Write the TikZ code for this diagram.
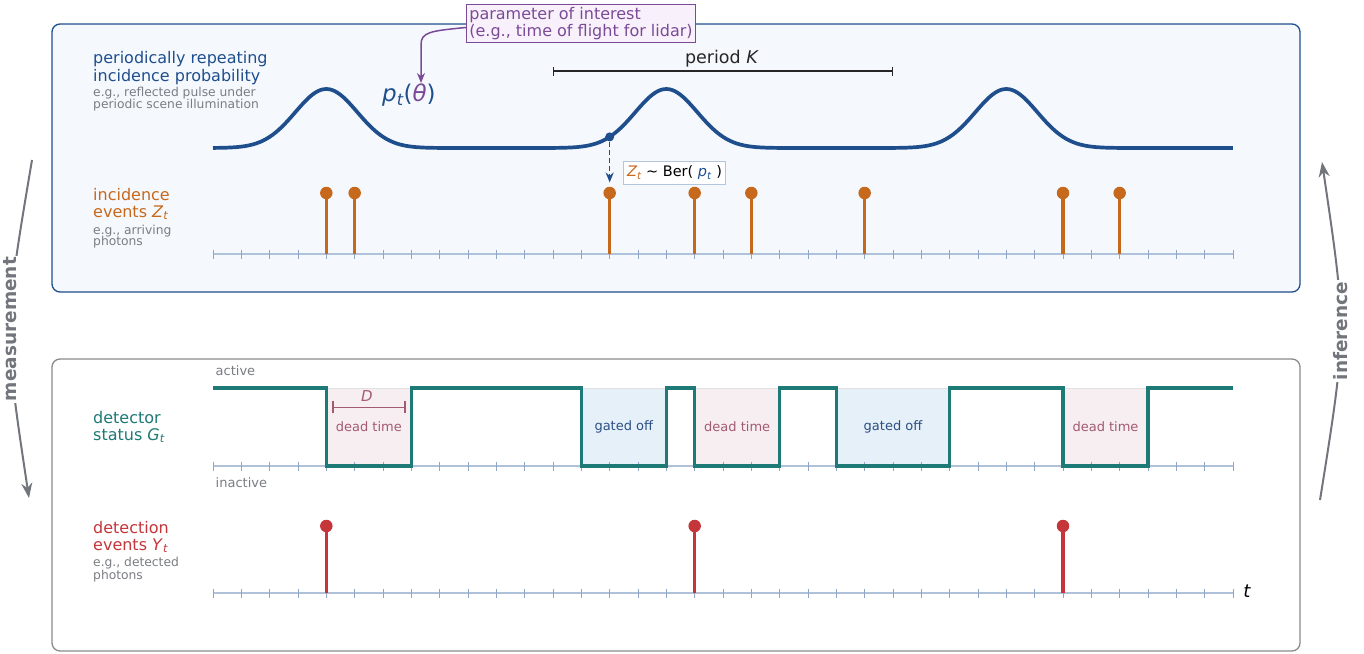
\documentclass[tikz,border=0pt]{standalone}
\usepackage{fontspec}
\setmainfont{DejaVu Sans}
\usetikzlibrary{arrows.meta}
\definecolor{cblue}{HTML}{1F4E8C}
\definecolor{bgblue}{HTML}{F5F9FE}
\definecolor{corange}{HTML}{C6691D}
\definecolor{cteal}{HTML}{1E7A76}
\definecolor{cred}{HTML}{C4363A}
\definecolor{cpurple}{HTML}{7B4A97}
\definecolor{cpurplebg}{HTML}{F8F1FB}
\definecolor{cmauve}{HTML}{A35A73}
\definecolor{deadbg}{HTML}{F6EEF1}
\definecolor{gatedbg}{HTML}{E6F0F9}
\definecolor{gatedtext}{HTML}{2B4F84}
\definecolor{gtext}{HTML}{7A7D83}
\definecolor{axiscol}{HTML}{B0C2DA}
\definecolor{tickcol}{HTML}{90A6C4}
\definecolor{arrowgray}{HTML}{72767C}
\definecolor{botborder}{HTML}{8A8A8A}
\definecolor{berborder}{HTML}{B3C6DE}
\newcommand\fs[1]{\fontsize{#1}{#1}\selectfont}
\newcommand\sbi[1]{\textsubscript{\itshape #1}}
\newcommand\timeaxis[1]{%
  \draw[axisline] (213,#1) -- (1233,#1);
  \foreach \i in {0,...,36}{\draw[tickline] ({213+\i*28.3333},{#1-4.5}) -- ({213+\i*28.3333},{#1+4.5});}}
\begin{document}
\begin{tikzpicture}[x=1pt,y=-1pt,
  lbl/.style={anchor=base west, inner sep=0pt, font=\fs{16}},
  sublbl/.style={anchor=base west, inner sep=0pt, font=\fs{12.3}, text=gtext},
  axisline/.style={draw=axiscol, line width=1.5pt},
  tickline/.style={draw=tickcol, line width=0.9pt},
  ostem/.style={draw=corange, line width=3.3pt},
  rstem/.style={draw=cred, line width=3.3pt},
  odot/.style={circle, fill=corange, inner sep=0pt, minimum size=12.5pt},
  rdot/.style={circle, fill=cred, inner sep=0pt, minimum size=12.5pt},
  sidearrow/.style={draw=arrowgray, line width=2pt, -{Stealth[length=15pt,width=11pt]}},
  sidelabel/.style={rotate=90, fill=white, inner sep=1.5pt, font=\bfseries\fs{18.5}, text=arrowgray},
  shade/.style={draw=black!12, line width=0.6pt},
  dtlabel/.style={font=\fs{13}, text=cmauve},
  gtlabel/.style={font=\fs{13}, text=gatedtext},
  statelbl/.style={anchor=west, inner sep=0pt, font=\fs{13}, text=gtext},
]
\useasboundingbox (0,0) rectangle (1364,653);

% panels
\draw[draw=cblue, fill=bgblue, line width=1.3pt, rounded corners=8pt] (52,24) rectangle (1300,292);
\draw[draw=botborder, fill=white, line width=1.3pt, rounded corners=8pt] (52,359) rectangle (1300,651);

% ---------- top panel ----------
\node[lbl, text=cblue] (l1a) at (93,63.3) {periodically repeating};
\node[lbl, text=cblue] (l1b) at (93,81) {incidence probability};
\node[sublbl] (l1c) at (93,96.7) {e.g., reflected pulse under};
\node[sublbl] (l1d) at (93,108.3) {periodic scene illumination};

\draw[cblue, line width=3.7pt, line join=round]
  plot[domain=0:36, samples=361, smooth]
  ({213+\x*28.3333},{148-59*exp(-((\x-4-12*round((\x-4)/12))^2)/2.4)});

\node[anchor=base west, inner sep=0pt, font=\fs{23}, text=cblue] (ptheta) at (382,101.7)
  {\itshape p\sbi{t}\upshape(\textcolor{cpurple}{\itshape θ}\upshape)};
\coordinate (thetatop) at (421,83);

\node[draw=cpurple, fill=cpurplebg, line width=1pt, inner xsep=3pt, inner ysep=3pt, align=left,
      font=\fontsize{16}{17}\selectfont, text=cpurple] (callout) at (581,23.5)
  {parameter of interest\\(e.g., time of flight for lidar)};
\draw[cpurple, line width=1.5pt, -{Stealth[length=10pt,width=8pt]}]
  ([yshift=-4pt]callout.west) .. controls (430,31) and (421,32) .. (421,45) -- (thetatop);

\coordinate (kA) at (553,71);
\coordinate (kB) at (893,71);
\draw[line width=1.4pt, draw=black!85, {Bar[width=9pt]}-{Bar[width=9pt]}] (kA) -- (kB);
\node[anchor=base, inner sep=0pt, font=\fs{17.5}, text=black!85] (periodK) at (722,63.3) {period \textit{K}};

\node[lbl, text=corange] (l2a) at (93,200.7) {incidence};
\node[lbl, text=corange] (l2b) at (93,217.3) {events \textit{Z}\sbi{t}};
\node[sublbl] (l2c) at (93,234) {e.g., arriving};
\node[sublbl] (l2d) at (93,245.5) {photons};

\timeaxis{254}
\foreach \t in {4,5,14,17,19,23,30,32}{
  \draw[ostem] ({213+\t*28.3333},193) -- ({213+\t*28.3333},254);
  \node[odot] (z\t) at ({213+\t*28.3333},193) {};
}

\node[circle, fill=cblue, inner sep=0pt, minimum size=9pt] (pt14) at ({213+14*28.3333},136.9) {};
\coordinate (bertip) at ({213+14*28.3333},182.5);
\draw[cblue, line width=1.6pt, dash pattern=on 5pt off 3pt, -{Stealth[length=10pt,width=8pt]}] (pt14) -- (bertip);
\node[draw=berborder, fill=white, line width=1pt, inner xsep=3.5pt, inner ysep=4.5pt, font=\fs{14.5}] (ber) at (674.5,173)
  {\textcolor{corange}{\itshape Z\sbi{t}} ∼ Ber( \textcolor{cblue}{\itshape p\sbi{t}} )};

% ---------- bottom panel ----------
\node[statelbl] (active) at (215.5,371) {active};
\node[statelbl] (inactive) at (215.5,483) {inactive};

\node[lbl, text=cteal] (l3a) at (93,423.3) {detector};
\node[lbl, text=cteal] (l3b) at (93,440) {status \textit{G}\sbi{t}};

\fill[deadbg] (326.33,388) rectangle (411.33,466);
\fill[deadbg] (694.67,388) rectangle (779.67,466);
\fill[deadbg] (1063,388) rectangle (1148,466);
\fill[gatedbg] (581.33,388) rectangle (666.33,466);
\fill[gatedbg] (836.33,388) rectangle (949.67,466);
\draw[shade] (326.33,388) -- (411.33,388) (694.67,388) -- (779.67,388) (1063,388) -- (1148,388)
  (581.33,388) -- (666.33,388) (836.33,388) -- (949.67,388);

\node[dtlabel] (dt1) at (368.8,426.5) {dead time};
\node[dtlabel] (dt2) at (737.2,426.5) {dead time};
\node[dtlabel] (dt3) at (1105.5,426.5) {dead time};
\node[gtlabel] (go1) at (623.8,426.5) {gated off};
\node[gtlabel] (go2) at (893,426.5) {gated off};

\coordinate (dA) at (332.3,407.3);
\coordinate (dB) at (405.7,407.3);
\draw[cmauve, line width=1.4pt, {Bar[width=12pt]}-{Bar[width=12pt]}] (dA) -- (dB);
\node[font=\fs{15}\itshape, text=cmauve, inner sep=0pt] (dlab) at (367,396) {D};

\timeaxis{466}
\draw[cteal, line width=3.6pt, line join=miter]
  (213,388) -- (326.33,388) -- (326.33,466) -- (411.33,466) -- (411.33,388)
  -- (581.33,388) -- (581.33,466) -- (666.33,466) -- (666.33,388)
  -- (694.67,388) -- (694.67,466) -- (779.67,466) -- (779.67,388)
  -- (836.33,388) -- (836.33,466) -- (949.67,466) -- (949.67,388)
  -- (1063,388) -- (1063,466) -- (1148,466) -- (1148,388) -- (1233,388);

\node[lbl, text=cred] (l4a) at (93,533) {detection};
\node[lbl, text=cred] (l4b) at (93,550) {events \textit{Y}\sbi{t}};
\node[sublbl] (l4c) at (93,566.7) {e.g., detected};
\node[sublbl] (l4d) at (93,579) {photons};

\timeaxis{593}
\foreach \t in {4,17,30}{
  \draw[rstem] ({213+\t*28.3333},526) -- ({213+\t*28.3333},593);
  \node[rdot] (y\t) at ({213+\t*28.3333},526) {};
}
\node[font=\fs{18}\itshape, inner sep=0pt] (tlab) at (1247,591) {t};

% ---------- side arrows ----------
\coordinate (mA) at (32,160);
\coordinate (mB) at (29,498);
\draw[sidearrow] (mA) .. controls (3.5,329) .. (mB)
  node[sidelabel, pos=0.5] (meas) {measurement};
\coordinate (iA) at (1320,500);
\coordinate (iB) at (1322,162);
\draw[sidearrow] (iA) .. controls (1347,331) .. (iB)
  node[sidelabel, pos=0.5] (infer) {inference};
\end{tikzpicture}
\end{document}
